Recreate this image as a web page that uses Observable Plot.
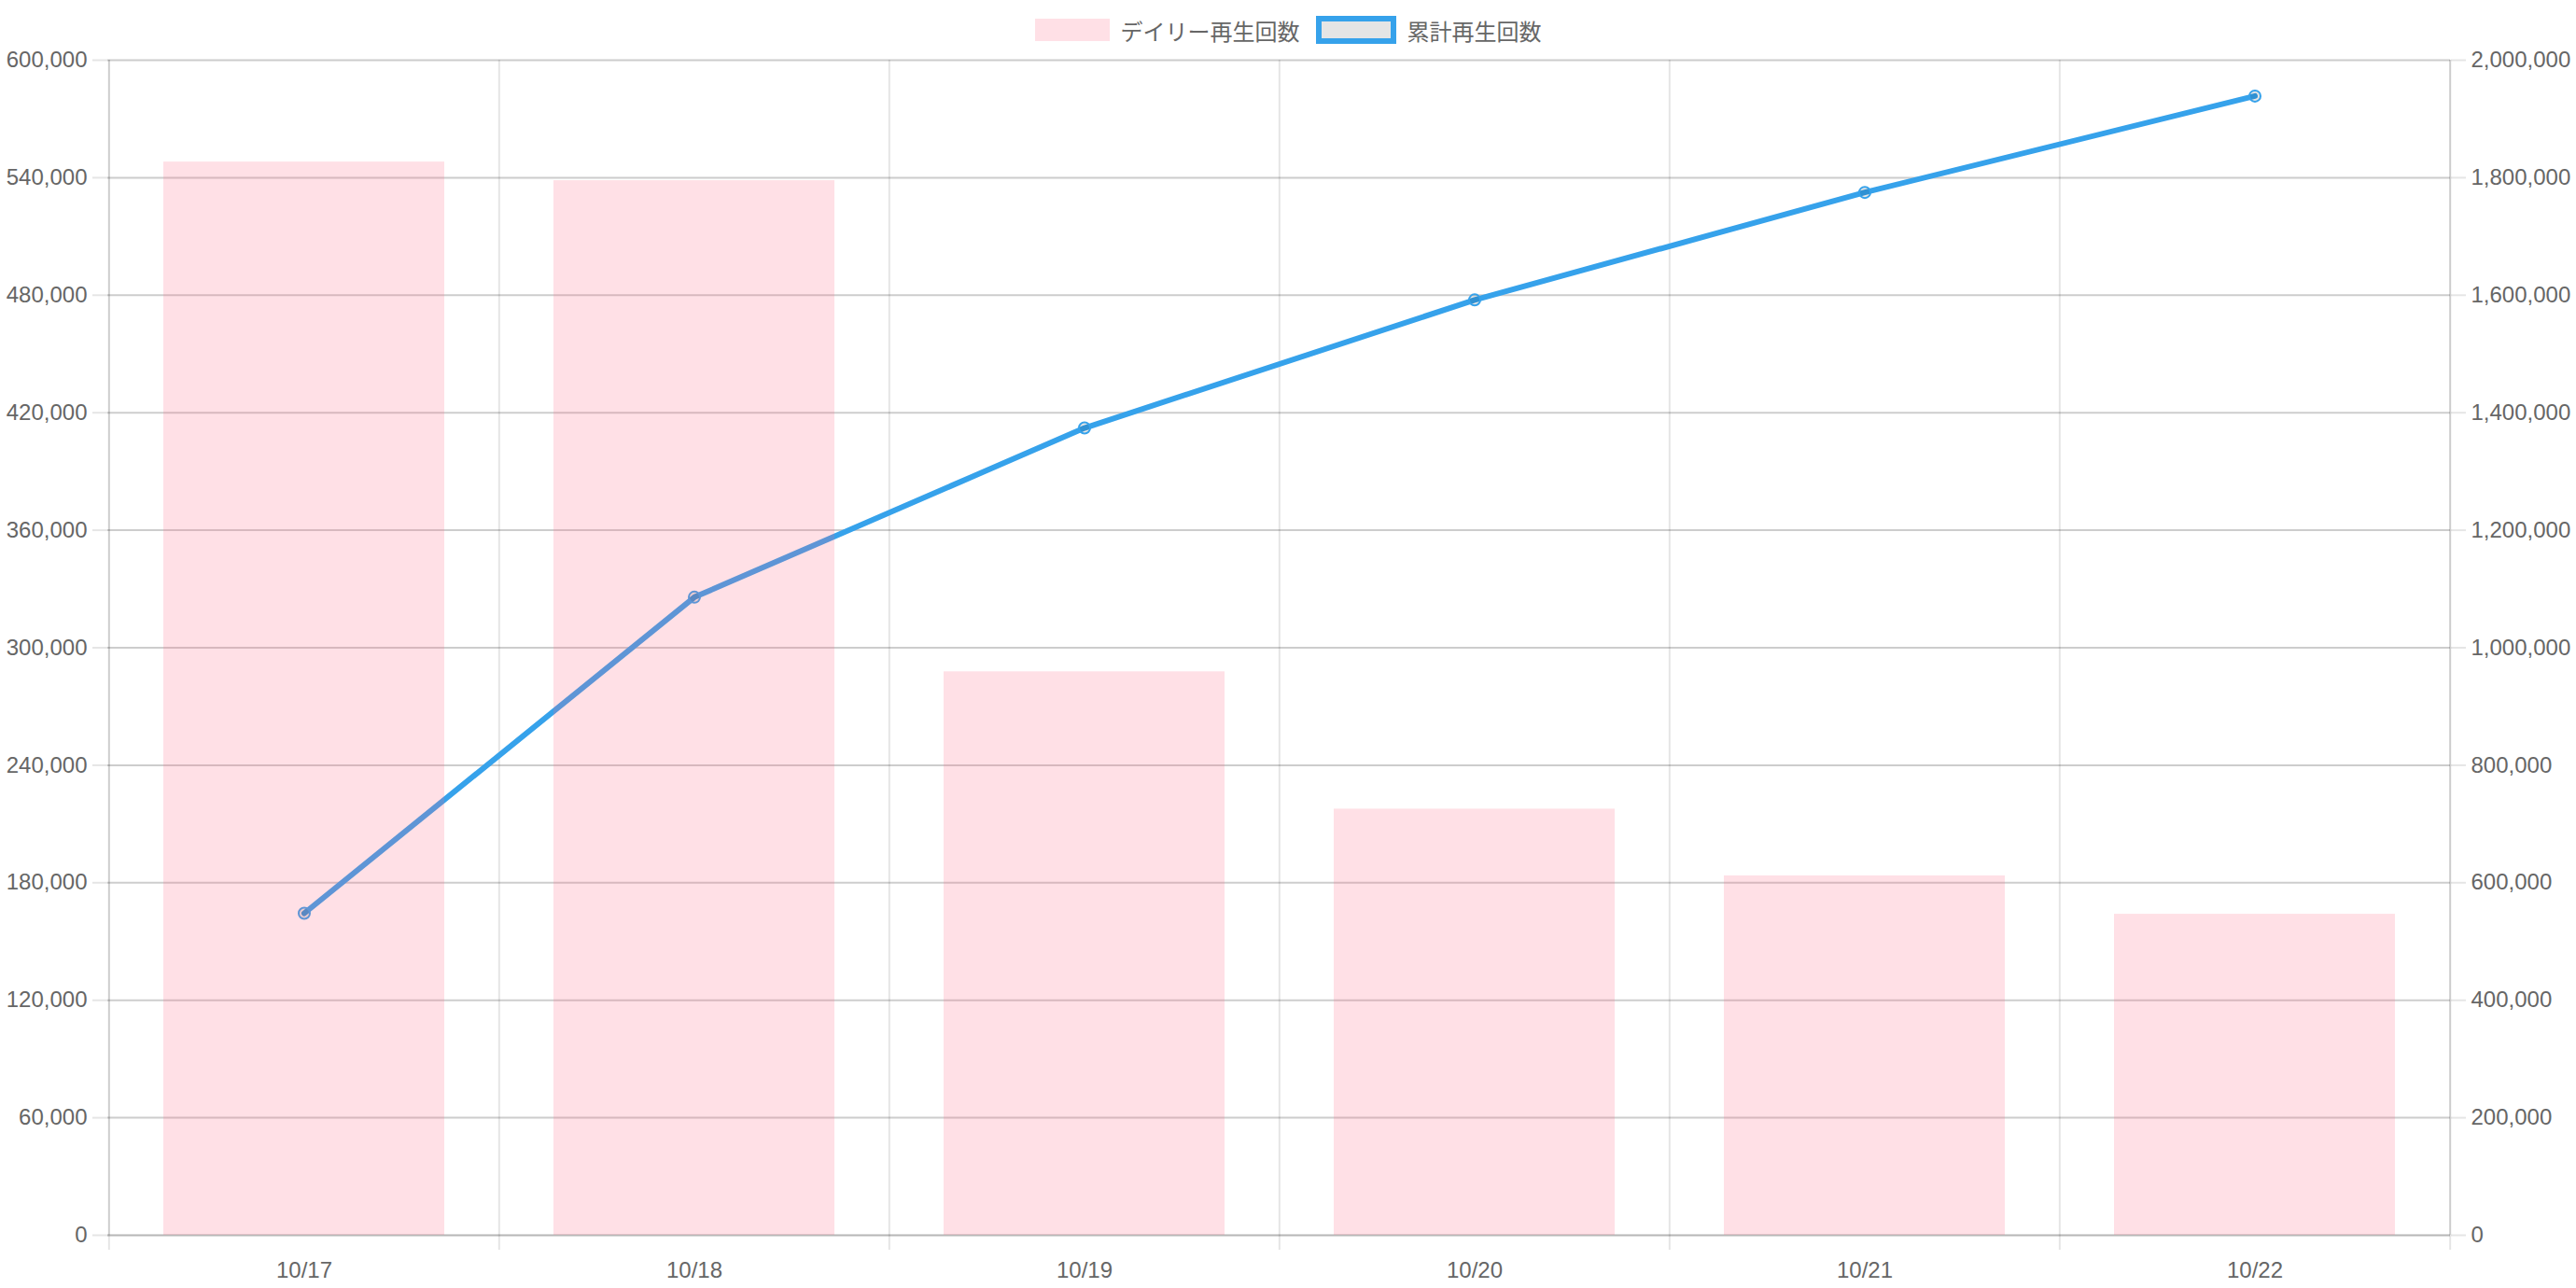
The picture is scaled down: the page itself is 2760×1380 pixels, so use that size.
<!DOCTYPE html>
<html>
<head>
<meta charset="utf-8">
<script src="https://cdn.jsdelivr.net/npm/d3@7"></script>
<script src="https://cdn.jsdelivr.net/npm/@observablehq/plot@0.6"></script>
<style>
  html, body { margin: 0; padding: 0; background: #fff; }
  #legend {
    display: flex; justify-content: center; align-items: center;
    height: 30px; padding-top: 17px;
    font: 24px "Helvetica Neue", Helvetica, Arial, "Liberation Sans", "Noto Sans CJK JP", sans-serif;
    color: #666;
  }
  #legend .box { display: inline-block; box-sizing: content-box; }
</style>
</head>
<body>
<div id="legend">
  <span class="box" style="width:80px;height:24px;background:rgba(255,99,132,0.2)"></span>
  <span style="margin-left:12px">デイリー再生回数</span>
  <span class="box" style="margin-left:17px;width:74px;height:18px;border:6px solid #36A2EB;background:rgba(0,0,0,0.1)"></span>
  <span style="margin-left:12px">累計再生回数</span>
</div>
<div id="chart"></div>
<script>
const dates = ["10/17", "10/18", "10/19", "10/20", "10/21", "10/22"];
const daily = [548000, 538500, 287700, 217600, 183500, 163900];
const cumulative = [548000, 1086000, 1374000, 1592000, 1775000, 1939000];
const leftTicks = [0, 60000, 120000, 180000, 240000, 300000, 360000, 420000, 480000, 540000, 600000];
const rightTicks = [0, 200000, 400000, 600000, 800000, 1000000, 1200000, 1400000, 1600000, 1800000, 2000000];
const seriesNames = ["デイリー再生回数", "累計再生回数"];

const leftMax = 600000, rightMax = 2000000;
const ratio = leftMax / rightMax;

const rows = dates.map((d, i) => ({date: d, daily: daily[i], cum: cumulative[i]}));

const W = 2760, H = 1333;
const mL = 115, mR = 135, mT = 17, mB = 57;
const step = (W - mL - mR) / dates.length;

const grid = {stroke: "#000", strokeOpacity: 0.1, strokeWidth: 2};
const fmt = d3.format(",");
const font = "'Helvetica Neue', Helvetica, Arial, 'Liberation Sans', 'Noto Sans CJK JP', sans-serif";

const chart = Plot.plot({
  width: W, height: H,
  marginLeft: mL, marginRight: mR, marginTop: mT, marginBottom: mB,
  style: {fontFamily: font, fontSize: "24px", background: "white", color: "#666", overflow: "visible"},
  x: {type: "band", domain: dates, paddingInner: 0.28, paddingOuter: 0.14},
  y: {domain: [0, leftMax]},
  marks: [
    // horizontal gridlines (drawn by both y axes)
    Plot.ruleY(leftTicks, {y: d => d, ...grid}),
    Plot.ruleY(leftTicks, {y: d => d, ...grid}),
    // x axis line at zero
    Plot.ruleY([0], {y: d => d, ...grid}),
    // vertical gridlines at category boundaries, extending below as ticks
    Plot.ruleX(dates, {x: d => d, dx: -step / 2, y1: leftMax, y2: 0, insetBottom: -16, ...grid}),
    Plot.ruleX([dates[dates.length - 1]], {x: d => d, dx: step / 2, y1: leftMax, y2: 0, insetBottom: -16, ...grid}),
    // y axis lines (left and right)
    Plot.ruleX([dates[0]], {x: d => d, dx: -step / 2, y1: leftMax, y2: 0, ...grid}),
    Plot.ruleX([dates[dates.length - 1]], {x: d => d, dx: step / 2, y1: leftMax, y2: 0, ...grid}),
    // cumulative line (behind bars)
    Plot.lineY(rows, {x: "date", y: d => d.cum * ratio, stroke: "#36A2EB", strokeWidth: 6, curve: "linear"}),
    Plot.dot(rows, {x: "date", y: d => d.cum * ratio, r: 6, stroke: "#36A2EB", strokeWidth: 2, fill: "#000", fillOpacity: 0.1}),
    // daily bars
    Plot.barY(rows, {x: "date", y: "daily", fill: "rgb(255,99,132)", fillOpacity: 0.2}),
    // axes
    Plot.axisY(leftTicks, {anchor: "left", tickSize: 16, tickPadding: 6, stroke: "#000", strokeOpacity: 0.1, strokeWidth: 2,
      fill: "#666", fontSize: 24, tickFormat: fmt, label: null}),
    Plot.axisY(rightTicks.map(v => v * ratio), {anchor: "right", tickSize: 16, tickPadding: 6, stroke: "#000", strokeOpacity: 0.1, strokeWidth: 2,
      fill: "#666", fontSize: 24, tickFormat: v => fmt(Math.round(v / ratio)), label: null}),
    Plot.axisX({anchor: "bottom", tickSize: 0, tickPadding: 28, fill: "#666", fontSize: 24, label: null})
  ]
});
document.getElementById("chart").appendChild(chart);
</script>
</body>
</html>
